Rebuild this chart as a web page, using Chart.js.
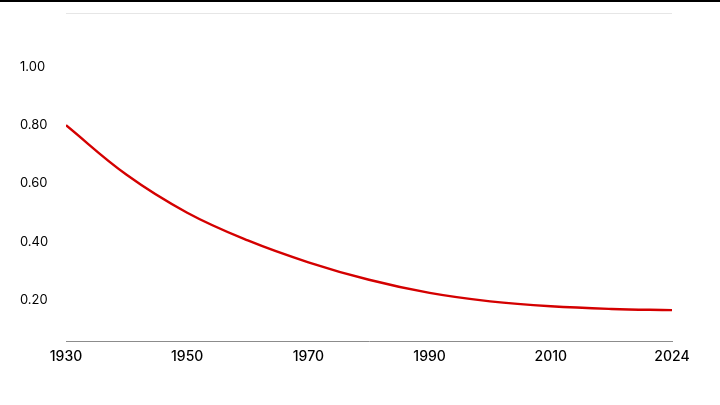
<!DOCTYPE html>
<html>
<head>
<meta charset="utf-8">
<script src="https://cdn.jsdelivr.net/npm/chart.js@4/dist/chart.umd.min.js"></script>
<style>
  html, body { margin: 0; padding: 0; background: #fff; }
  #wrap { position: relative; width: 720px; height: 405px; }
  #topbar { position: absolute; left: 0; top: 0; width: 720px; height: 2px; background: #000; }
</style>
</head>
<body>
<div id="wrap">
  <canvas id="myChart" width="720" height="405"></canvas>
  <div id="topbar"></div>
</div>
<script>
// tick labels on the x axis (evenly spaced, index 0..5)
const yearLabels = ['1930', '1950', '1970', '1990', '2010', '2024'];
// curve samples: position along the label index, and value
const xIndex = [0, 0.5, 1, 1.5, 2, 2.5, 3, 3.5, 4, 4.5, 5];
const values = [0.80, 0.630, 0.500, 0.405, 0.330, 0.270, 0.225, 0.196, 0.179, 0.170, 0.166];
const yTicks = [0.2, 0.4, 0.6, 0.8, 1.0];
const yMin = 0.06;
const yMax = 1.185;

const points = xIndex.map((x, i) => ({ x: x, y: values[i] }));

const ctx = document.getElementById('myChart').getContext('2d');
new Chart(ctx, {
  type: 'line',
  data: {
    datasets: [{
      data: points,
      borderColor: '#d40000',
      borderWidth: 2.4,
      pointRadius: 0,
      fill: false,
      tension: 0.4
    }]
  },
  options: {
    responsive: false,
    animation: false,
    layout: { padding: { left: 20, right: 48, top: 13, bottom: 0 } },
    plugins: { legend: { display: false }, tooltip: { enabled: false } },
    scales: {
      x: {
        type: 'linear',
        min: 0,
        max: yearLabels.length - 1,
        afterBuildTicks: (scale) => {
          scale.ticks = yearLabels.map((_, i) => ({ value: i }));
        },
        grid: { display: false, drawTicks: false },
        border: { display: true, color: '#8c8c8c', width: 1 },
        ticks: {
          color: '#000',
          padding: 7,
          maxRotation: 0,
          autoSkip: false,
          font: { family: 'Inter', size: 14, weight: 500 },
          callback: (v) => yearLabels[Math.round(v)]
        },
        afterFit: (scale) => { scale.height = 64; }
      },
      y: {
        min: yMin,
        max: yMax,
        afterBuildTicks: (scale) => {
          scale.ticks = yTicks.concat([yMax]).map(v => ({ value: v }));
        },
        afterFit: (scale) => { scale.width = 46; },
        grid: {
          drawTicks: false,
          color: (c) => (c.tick && c.tick.value === yMax ? '#e6e6e6' : 'rgba(0,0,0,0)')
        },
        border: { display: false },
        ticks: {
          color: '#000',
          crossAlign: 'far',
          padding: 0,
          font: { family: 'Inter', size: 13 },
          callback: (v) => (v === yMax ? '' : Number(v).toFixed(2))
        }
      }
    }
  }
});
</script>
</body>
</html>
